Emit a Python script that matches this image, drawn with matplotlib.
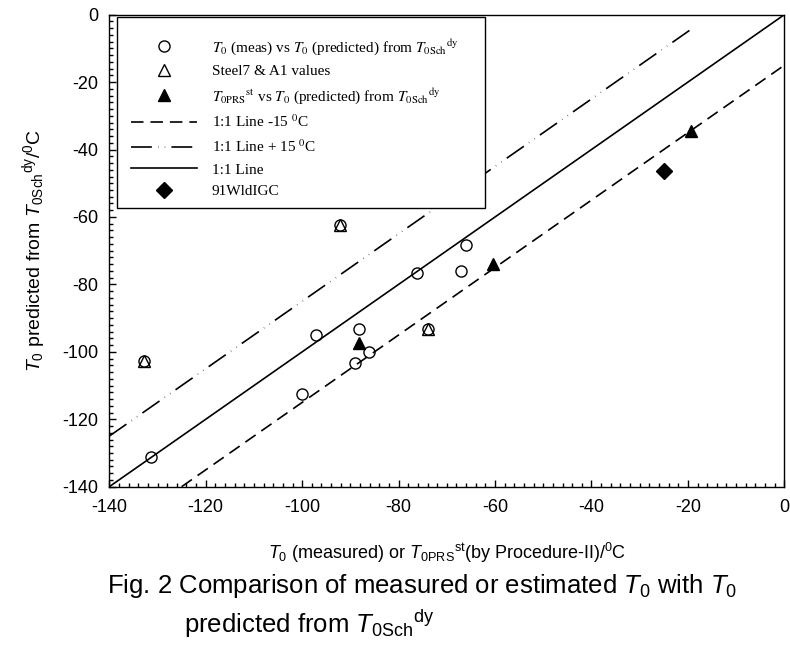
import matplotlib
matplotlib.use("Agg")
import matplotlib.pyplot as plt
import matplotlib.patches as patches
from matplotlib.font_manager import FontProperties
from matplotlib.ticker import MultipleLocator

plt.rcParams["font.family"] = "Liberation Sans"
plt.rcParams["mathtext.fontset"] = "custom"
plt.rcParams["mathtext.rm"] = "Liberation Sans"
plt.rcParams["mathtext.it"] = "Liberation Sans:italic"
plt.rcParams["mathtext.bf"] = "Liberation Sans:bold"
plt.rcParams["lines.scale_dashes"] = False
plt.rcParams["axes.unicode_minus"] = False

# T0 (measured) vs T0 predicted from T0Sch^dy
meas_x = [-131.4, -97.1, -100.1, -88.3, -89.0, -86.1, -76.1, -67.0, -66.0, -132.9, -92.1, -73.9]
meas_y = [-131.1, -95.0, -112.6, -93.2, -103.4, -100.0, -76.7, -75.9, -68.2, -102.7, -62.4, -93.3]
# Steel7 & A1 values
steel_x = [-132.9, -92.1, -73.9]
steel_y = [-102.7, -62.4, -93.3]
# T0PRS^st vs T0 predicted
prs_x = [-88.3, -60.5, -19.3]
prs_y = [-97.3, -73.8, -34.5]
# 91WldIGC
wld_x = [-24.9]
wld_y = [-46.3]
# reference lines
one_x = [-140, 0]
lower_x = [-125, 0]
upper_x = [-140, -19]
offset = 15

fig = plt.figure(figsize=(7.9, 6.48), dpi=100)
ax = fig.add_axes([109.3 / 790, 1 - 486.7 / 648, 675.0 / 790, 472.0 / 648])

lw = 1.2
ax.plot(lower_x, [v - offset for v in lower_x], color="black", lw=lw, dashes=(9.0, 5.0),
        label="1:1 Line -15 $^0$C")
ax.plot(upper_x, [v + offset for v in upper_x], color="black", lw=lw, dashes=(15.0, 4.5, 0.3, 4.5, 0.3, 4.5),
        label="1:1 Line + 15 $^0$C")
ax.plot(one_x, one_x, color="black", lw=lw, label="1:1 Line")

ms = 8
ax.plot(meas_x, meas_y, ls="none", marker="o", ms=ms, mfc="none", mec="black", mew=1.0,
        label=r"$T_0$ (meas) vs $T_0$ (predicted) from $T_{0\mathrm{Sch}}{}^{\mathrm{dy}}$")
ax.plot(steel_x, steel_y, ls="none", marker="^", ms=ms, mfc="none", mec="black", mew=1.0,
        label="Steel7 & A1 values")
ax.plot(prs_x, prs_y, ls="none", marker="^", ms=ms, mfc="black", mec="black",
        label=r"$T_{0\mathrm{PRS}}{}^{\mathrm{st}}$ vs $T_0$ (predicted) from $T_{0\mathrm{Sch}}{}^{\mathrm{dy}}$")
ax.plot(wld_x, wld_y, ls="none", marker="D", ms=8, mfc="black", mec="black",
        label="91WldIGC")

ax.set_xlim(-140, 0)
ax.set_ylim(-140, 0)
ax.xaxis.set_major_locator(MultipleLocator(20))
ax.yaxis.set_major_locator(MultipleLocator(20))
ax.xaxis.set_minor_locator(MultipleLocator(2))
ax.yaxis.set_minor_locator(MultipleLocator(2))
ax.tick_params(which="both", direction="in", top=False, right=False, labelsize=13, width=1.0)
ax.tick_params(which="major", length=5)
ax.tick_params(axis="x", which="major", pad=9)
ax.tick_params(axis="y", which="major", pad=8)
ax.tick_params(which="minor", length=3)
for s in ax.spines.values():
    s.set_linewidth(1.0)

ax.set_xlabel(r"$T_0$ (measured) or $T_{0\mathrm{PRS}}{}^{\mathrm{st}}$(by Procedure-II)/$^0$C",
              fontsize=13, labelpad=18)
ax.set_ylabel(r"$T_0$ predicted from $T_{0\mathrm{Sch}}{}^{\mathrm{dy}}$/$^0$C", fontsize=14, labelpad=10)

# legend box
frame = patches.Rectangle((-138.4, -57.3), 76.4, 56.6, facecolor="white", edgecolor="black",
                          lw=1.0, zorder=5)
ax.add_patch(frame)
handles, labels = ax.get_legend_handles_labels()
order = [3, 4, 5, 0, 1, 2, 6]
leg_font = FontProperties(family="Liberation Serif", size=11, math_fontfamily="stix")
leg = ax.legend([handles[i] for i in order], [labels[i] for i in order],
                loc="upper left", bbox_to_anchor=(-135.5, -6.6), bbox_transform=ax.transData,
                frameon=False, prop=leg_font, handlelength=4.3, handletextpad=1.0,
                labelspacing=0.52, borderpad=0, borderaxespad=0)
leg.set_zorder(6)

fig.text(0.535, 0.085, r"Fig. 2 Comparison of measured or estimated $T_0$ with $T_0$",
         ha="center", va="baseline", fontsize=18.5)
fig.text(0.233, 0.023, r"predicted from $T_{0\mathrm{Sch}}{}^{\mathrm{dy}}$",
         ha="left", va="baseline", fontsize=18.5)

fig.savefig("out.png", dpi=100)
